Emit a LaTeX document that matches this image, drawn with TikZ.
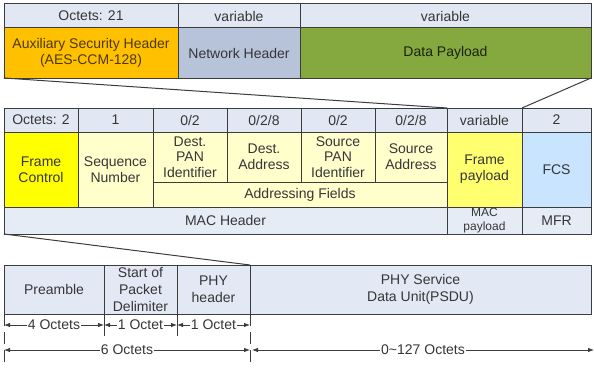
\documentclass[tikz,border=0pt]{standalone}
\usepackage{fontspec}
\setmainfont{Liberation Sans}
\usetikzlibrary{arrows.meta}
\definecolor{hdr}{HTML}{E2E8F3}
\definecolor{auxorange}{HTML}{FFC000}
\definecolor{netblue}{HTML}{B6C3D9}
\definecolor{datagreen}{HTML}{85A93F}
\definecolor{fcyellow}{HTML}{FFFF00}
\definecolor{lightyellow}{HTML}{FFFFCC}
\definecolor{fpyellow}{HTML}{FFFF70}
\definecolor{fcsblue}{HTML}{C8E4FF}
\definecolor{macrow}{HTML}{E6ECF6}
\definecolor{phyrow}{HTML}{E2E8F4}
\definecolor{linegray}{HTML}{3C3C3C}
\definecolor{txt}{HTML}{363636}
\tikzset{
  cellbox/.style={draw=linegray, line width=1pt, inner sep=0pt, outer sep=0pt,
    align=center, text=txt, font=\fontsize{14}{16}\selectfont},
  conn/.style={draw=linegray, line width=1pt},
  dimline/.style={draw=linegray, line width=0.8pt,
    {Latex[length=6pt,width=4.5pt]}-{Latex[length=6pt,width=4.5pt]}},
  dimlabel/.style={fill=white, inner sep=1pt, text=txt, font=\fontsize{14}{16}\selectfont},
  tickline/.style={draw=linegray, line width=0.8pt},
  dashtick/.style={draw=linegray, line width=0.8pt, dash pattern=on 12pt off 6pt}
}
\newcommand\mkcell[8][]{%
  \pgfmathsetmacro\cw{#5-#3}%
  \pgfmathsetmacro\ch{#6-#4}%
  \node[cellbox, fill=#7, minimum width=\cw pt, minimum height=\ch pt, #1]
    (#2) at ({(#3+#5)/2},{(#4+#6)/2}) {#8};}
\begin{document}
\begin{tikzpicture}[x=1pt,y=-1pt]
\useasboundingbox (0,0) rectangle (594,369);
% top table
\mkcell{o21}{4}{4}{178}{28}{hdr}{Octets: 21}
\mkcell{ovara}{178}{4}{300}{28}{hdr}{variable}
\mkcell{ovarb}{300}{4}{591}{28}{hdr}{variable}
\mkcell[text=black!70!auxorange]{aux}{4}{28}{178}{78}{auxorange}{Auxiliary Security Header\\(AES-CCM-128)}
\mkcell{net}{178}{28}{300}{78}{netblue}{Network Header}
\mkcell[text=black!80!datagreen]{data}{300}{28}{591}{78}{datagreen}{Data Payload}
% MAC frame
\mkcell{ha}{4}{108}{78}{132}{hdr}{Octets: 2}
\mkcell{hb}{78}{108}{153}{132}{hdr}{1}
\mkcell{hc}{153}{108}{227}{132}{hdr}{0/2}
\mkcell{hd}{227}{108}{301}{132}{hdr}{0/2/8}
\mkcell{he}{301}{108}{375}{132}{hdr}{0/2}
\mkcell{hf}{375}{108}{447}{132}{hdr}{0/2/8}
\mkcell{hg}{447}{108}{522}{132}{hdr}{variable}
\mkcell{hh}{522}{108}{591}{132}{hdr}{2}
\mkcell{fc}{4}{132}{78}{207}{fcyellow}{Frame\\Control}
\mkcell{sn}{78}{132}{153}{207}{lightyellow}{Sequence\\Number}
\mkcell[font=\fontsize{14}{15.5}\selectfont]{dpan}{153}{132}{227}{182}{lightyellow}{Dest.\\PAN\\Identifier}
\mkcell{dadr}{227}{132}{301}{182}{lightyellow}{Dest.\\Address}
\mkcell[font=\fontsize{14}{15.5}\selectfont]{span}{301}{132}{375}{182}{lightyellow}{Source\\PAN\\Identifier}
\mkcell{sadr}{375}{132}{447}{182}{lightyellow}{Source\\Address}
\mkcell{addr}{153}{182}{447}{207}{lightyellow}{Addressing Fields}
\mkcell{fp}{447}{132}{522}{207}{fpyellow}{Frame\\payload}
\mkcell{fcs}{522}{132}{591}{207}{fcsblue}{FCS}
\mkcell{mach}{4}{207}{447}{234}{macrow}{MAC Header}
\mkcell[font=\fontsize{12}{14}\selectfont]{macp}{447}{207}{522}{234}{macrow}{MAC\\payload}
\mkcell{mfr}{522}{207}{591}{234}{macrow}{MFR}
% PHY frame
\mkcell{pre}{4}{265}{104}{314}{phyrow}{Preamble}
\mkcell[font=\fontsize{14}{17}\selectfont]{sfd}{104}{265}{177}{314}{phyrow}{Start of\\Packet\\Delimiter}
\mkcell[font=\fontsize{14}{17}\selectfont]{phyh}{177}{265}{250}{314}{phyrow}{PHY\\header}
\mkcell[font=\fontsize{14}{17}\selectfont]{psdu}{250}{265}{591}{314}{phyrow}{PHY Service\\Data Unit(PSDU)}
% expansion lines
\draw[conn] (aux.south west) -- (hg.north west);
\draw[conn] (data.south east) -- (hh.north west);
\draw[conn] (mach.south west) -- (phyh.north east);
% ticks
\coordinate (ta) at (4,366);
\coordinate (tb) at (104,336);
\coordinate (tc) at (177,336);
\coordinate (td) at (250,366);
\draw[dashtick] (pre.south west) -- (ta);
\draw[tickline] (sfd.south west) -- (tb);
\draw[tickline] (phyh.south west) -- (tc);
\draw[dashtick] (phyh.south east) -- (td);
% dimension arrows
\coordinate (da) at (4,325);
\coordinate (db) at (104,325);
\coordinate (dc) at (177,325);
\coordinate (dd) at (250,325);
\draw[dimline] (da) -- node[dimlabel] (l4) {4 Octets} (db);
\draw[dimline] (db) -- node[dimlabel] (l1a) {1 Octet} (dc);
\draw[dimline] (dc) -- node[dimlabel] (l1b) {1 Octet} (dd);
\coordinate (ea) at (4,350);
\coordinate (eb) at (250,350);
\coordinate (ec) at (252,350);
\coordinate (ed) at (594,350);
\draw[dimline] (ea) -- node[dimlabel] (l6) {6 Octets} (eb);
\draw[dimline] (ec) -- node[dimlabel] (l127) {0\textasciitilde127 Octets} (ed);
\end{tikzpicture}
\end{document}
